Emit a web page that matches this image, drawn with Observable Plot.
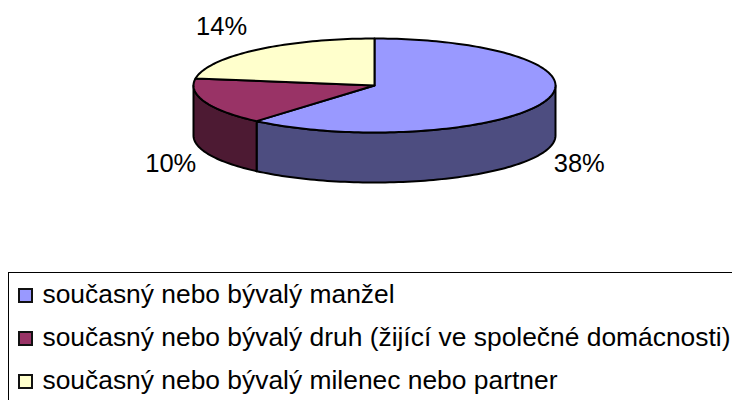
<!DOCTYPE html>
<html lang="cs">
<head>
<meta charset="utf-8">
<script src="https://cdn.jsdelivr.net/npm/d3@7"></script>
<script src="https://cdn.jsdelivr.net/npm/@observablehq/plot@0.6"></script>
<style>
html,body{margin:0;padding:0;background:#fff;overflow:hidden;width:732px;height:400px}
svg{display:block}
#legend{box-sizing:border-box;height:128px;width:760px;margin-left:8px;border-top:1.5px solid #000;border-left:1.5px solid #000;font-family:"Liberation Sans",Arial,sans-serif;font-size:26.4px;color:#000;position:relative;overflow:hidden}
.row{position:absolute;left:8.5px;display:flex;align-items:center;height:30px;white-space:nowrap}
.sw{box-sizing:border-box;width:15px;height:15px;border:2px solid #111;margin-right:10px;flex:none}
.tx{position:relative;top:-1.5px}
</style>
</head>
<body>
<div id="chart"></div>
<div id="legend"></div>
<script>
const categories = [
  "současný nebo bývalý manžel",
  "současný nebo bývalý druh (žijící ve společné domácnosti)",
  "současný nebo bývalý milenec nebo partner"
];
const values = [38, 10, 14];
const topColors = ["#9999FF", "#993366", "#FFFFCC"];
const sideColors = ["#4D4D80", "#4D1A33", "#808066"];
const labelDx = [35, -34, -35];
const labelDy = [62, 62, -23];

// pie geometry, in the units of the chart's x and y scales
const cx = 374, cy = 85, rx = 181, ry = 47, depth = 50;
const total = d3.sum(values);
const ends = d3.cumsum(values).map(v => v / total * 2 * Math.PI);
const slices = values.map((v, i) => ({i, a0: i ? ends[i - 1] : 0, a1: ends[i]}));
const rim = (a, dy = 0) => ({x: cx + rx * Math.sin(a), y: cy - ry * Math.cos(a) + dy});
const arc = (a0, a1, dy = 0) => {
  const n = Math.max(2, Math.ceil((a1 - a0) * 40));
  return d3.range(n + 1).map(k => rim(a0 + (a1 - a0) * k / n, dy));
};

const tops = slices.flatMap(s => {
  const pts = [{x: cx, y: cy}, ...arc(s.a0, s.a1), {x: cx, y: cy}];
  return pts.map(p => ({...p, id: "t" + s.i, color: topColors[s.i]}));
});
const sides = slices.flatMap(s => {
  const a0 = Math.max(s.a0, Math.PI / 2), a1 = Math.min(s.a1, 3 * Math.PI / 2);
  if (a1 <= a0) return [];
  const upper = arc(a0, a1), lower = arc(a0, a1, depth).reverse();
  return [...upper, ...lower, upper[0]].map(p => ({...p, id: "s" + s.i, color: sideColors[s.i]}));
});
const labels = slices.map(s => {
  const p = rim((s.a0 + s.a1) / 2);
  return {...p, text: values[s.i] + "%", dx: labelDx[s.i], dy: labelDy[s.i]};
});

const outline = {x: "x", y: "y", z: "id", fill: "color", stroke: "#000", strokeWidth: 2};
const chart = Plot.plot({
  width: 732, height: 272,
  margin: 0,
  x: {domain: [0, 732], range: [0, 732], axis: null},
  y: {domain: [0, 272], range: [0, 272], axis: null},
  color: {type: "identity"},
  marks: [
    Plot.line(sides, outline),
    Plot.line(tops, outline),
    ...labels.map(l => Plot.text([l], {
      x: "x", y: "y", text: "text", dx: l.dx, dy: l.dy,
      fontSize: 25.5, fontFamily: "Liberation Sans, Arial, sans-serif", fill: "#000"
    }))
  ]
});
document.getElementById("chart").appendChild(chart);

const legend = document.getElementById("legend");
categories.forEach((c, i) => {
  const row = document.createElement("div");
  row.className = "row";
  row.style.top = (7.5 + i * 43) + "px";
  const sw = document.createElement("span");
  sw.className = "sw";
  sw.style.background = topColors[i];
  const t = document.createElement("span");
  t.className = "tx";
  t.textContent = c;
  row.append(sw, t);
  legend.appendChild(row);
});
</script>
</body>
</html>
